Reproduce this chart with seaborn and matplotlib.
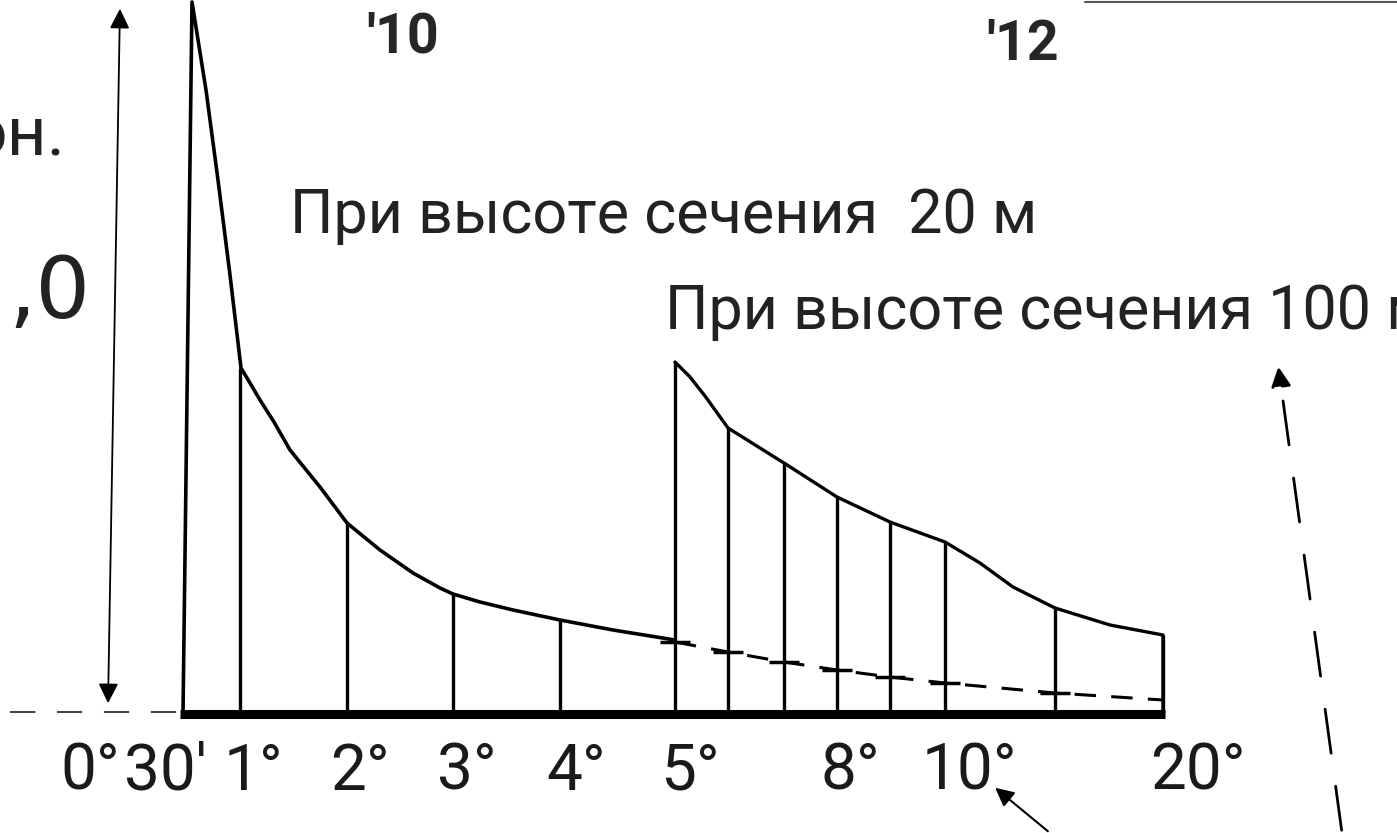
import numpy as np
import seaborn as sns
import matplotlib.pyplot as plt

# шкала заложений: положения делений по горизонтали и высоты ординат над основанием
# кривая для высоты сечения 20 м (от 30' до 5°)
curve20_x = [183, 192, 206, 218, 230, 241, 250, 260, 274, 290, 320, 347, 380, 413, 440, 453, 480, 513, 560, 613, 675]
curve20_h = [0, 712, 624, 534, 439, 346, 331, 314, 292, 264, 227, 191, 164, 141, 126, 120, 112, 104, 94, 84, 74]
ord20_x = [240, 347, 453, 560]
ord20_h = [346, 191, 120, 94]

# кривая для высоты сечения 100 м (от 5° до 20°)
curve100_x = [675, 690, 705, 728, 784, 837, 890, 945, 980, 1013, 1055, 1110, 1163, 1163]
curve100_h = [352, 337, 318, 286, 251, 217, 192, 172, 151, 127, 106, 89, 79, 0]
ord100_x = [675, 728, 784, 837, 890, 945, 1055, 1163]
ord100_h = [352, 286, 251, 217, 192, 172, 106, 79]

# продолжение кривой 20 м (пунктир)
dash_x = [675, 728, 784, 837, 890, 945, 1055, 1163]
dash_h = [72, 62, 52, 44, 37, 31, 21, 14]

scale_labels = ["0°", "30'", "1°", "2°", "3°", "4°", "5°", "8°", "10°", "20°"]
scale_label_x = [60, 124, 224, 330, 437, 546, 660, 820, 922, 1150]

sns.set_style("white")
plt.rcParams['font.family'] = ['Roboto', 'DejaVu Sans']
font = ['Roboto', 'DejaVu Sans']

fig = plt.figure(figsize=(13.97, 8.33), dpi=100)
ax = fig.add_axes([0, 0, 1, 1])
ax.set_xlim(0, 1397)
ax.set_ylim(-119, 714)
ax.axis('off')

sns.lineplot(x=curve20_x, y=curve20_h, sort=False, estimator=None, color='black', lw=2.6, ax=ax)
sns.lineplot(x=curve100_x, y=curve100_h, sort=False, estimator=None, color='black', lw=2.4, ax=ax)
sns.lineplot(x=dash_x, y=dash_h, sort=False, estimator=None, color='black', lw=2.2,
             ax=ax, linestyle=(0, (7, 5)))
sns.scatterplot(x=dash_x[:-1], y=dash_h[:-1], marker='_', s=450, color='black', linewidth=2.5, ax=ax)

ax.vlines(ord20_x, 0, ord20_h, color='black', lw=2.4)
ax.vlines(ord100_x, 0, ord100_h, color='black', lw=2.4)

# основание
ax.plot([180, 1165], [0, 0], color='black', lw=6.5, solid_capstyle='butt')
ax.plot([10, 178], [2, 2], color='#333333', lw=1.3, linestyle=(0, (14, 12)))

# двойная стрелка слева
ax.annotate('', xy=(120, 708), xytext=(108, 8),
            arrowprops=dict(arrowstyle='<|-|>', color='black', lw=1.3, mutation_scale=30))

for lab, x in zip(scale_labels, scale_label_x):
    ax.text(x, -58, lab, fontsize=46, family=font, va='center', ha='left', color='#1a1a1a')

ax.text(290, 498, "При высоте сечения  20 м", fontsize=44, family=font, va='center', ha='left', color='#222222')
ax.text(665, 402, "При высоте сечения 100 м", fontsize=44, family=font, va='center', ha='left', color='#222222')

ax.text(66, 578, "он.", fontsize=50, family=font, va='center', ha='right', color='#222222')
ax.text(8, 419, ",0", fontsize=62, family=['DejaVu Sans'], va='center', ha='left', color='#222222')
ax.text(366, 677, "'10", fontsize=40, family=font, va='center', ha='left', fontweight='bold')
ax.text(986, 669, "'12", fontsize=40, family=font, va='center', ha='left', fontweight='bold')
ax.plot([1085, 1397], [712, 712], color='#555555', lw=1.5)

# стрелки справа
ax.annotate('', xy=(1278, 350), xytext=(1342, -119),
            arrowprops=dict(arrowstyle='-|>', color='black', lw=2, linestyle=(0, (16, 12)), mutation_scale=30))
ax.annotate('', xy=(993, -72), xytext=(1050, -119),
            arrowprops=dict(arrowstyle='-|>', color='black', lw=1.5, mutation_scale=28))

fig.savefig('out.png', dpi=100, facecolor='white')
